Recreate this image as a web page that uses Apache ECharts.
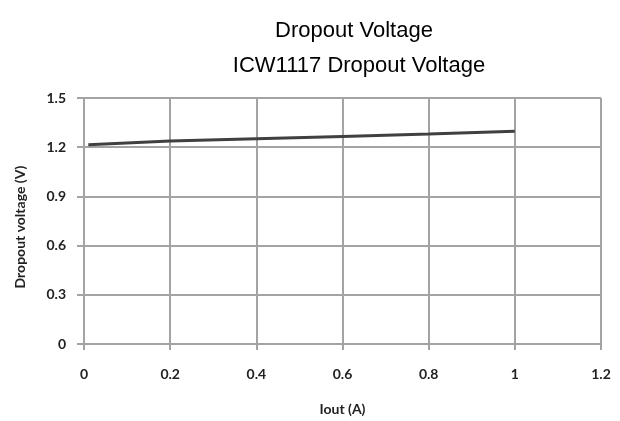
<!DOCTYPE html>
<html>
<head>
<meta charset="utf-8">
<script src="https://cdn.jsdelivr.net/npm/echarts@6/dist/echarts.min.js"></script>
<style>
html,body{margin:0;padding:0;background:#fff;}
#chart{width:620px;height:421px;}
</style>
</head>
<body>
<div id="chart"></div>
<script>
var titleText = "Dropout Voltage";
var subtitleText = "ICW1117 Dropout Voltage";
var xName = "Iout (A)";
var yName = "Dropout voltage (V)";
var iout = [0.01, 0.2, 0.4, 0.6, 0.8, 1.0];
var dropout = [1.215, 1.238, 1.252, 1.266, 1.281, 1.297];
var xTicks = [0, 0.2, 0.4, 0.6, 0.8, 1, 1.2];
var yTicks = [0, 0.3, 0.6, 0.9, 1.2, 1.5];

var seriesData = iout.map(function (x, i) { return [x, dropout[i]]; });
var gridColor = '#a3a3a3';
var labelFont = { fontFamily: 'Lato', fontWeight: 'bold', fontSize: 14, color: '#222' };
var titleFont = { fontFamily: 'Liberation Sans', fontWeight: 'normal', fontSize: 22, color: '#000' };

var chart = echarts.init(document.getElementById('chart'), null, { renderer: 'canvas' });
chart.setOption({
  animation: false,
  backgroundColor: '#fff',
  title: [
    { text: titleText, left: 349, top: 15, textAlign: 'center', textStyle: titleFont },
    { text: subtitleText, left: 354, top: 50, textAlign: 'center', textStyle: titleFont }
  ],
  grid: { left: 84, right: 19, top: 98, bottom: 75, containLabel: false },
  xAxis: {
    type: 'value', min: xTicks[0], max: xTicks[xTicks.length - 1], interval: 0.2,
    name: xName, nameLocation: 'middle', nameGap: 58,
    nameTextStyle: labelFont,
    axisLine: { show: true, lineStyle: { color: gridColor, width: 2 } },
    axisTick: { show: true, length: 6, lineStyle: { color: gridColor, width: 2 } },
    axisLabel: Object.assign({ margin: 23, formatter: function (v) { return String(Math.round(v * 10) / 10); } }, labelFont),
    splitLine: { show: true, lineStyle: { color: gridColor, width: 2 } }
  },
  yAxis: {
    type: 'value', min: yTicks[0], max: yTicks[yTicks.length - 1], interval: 0.3,
    name: yName, nameLocation: 'middle', nameGap: 57, nameRotate: 90,
    nameTextStyle: Object.assign({ padding: [0, 12, 0, 0] }, labelFont),
    axisLine: { show: true, lineStyle: { color: gridColor, width: 2 } },
    axisTick: { show: true, length: 7, lineStyle: { color: gridColor, width: 2 } },
    axisLabel: Object.assign({ margin: 18, formatter: function (v) { return String(Math.round(v * 10) / 10); } }, labelFont),
    splitLine: { show: true, lineStyle: { color: gridColor, width: 2 } }
  },
  series: [{
    type: 'line', data: seriesData, showSymbol: false, smooth: false,
    lineStyle: { color: '#404040', width: 3 }
  }]
});
</script>
</body>
</html>
